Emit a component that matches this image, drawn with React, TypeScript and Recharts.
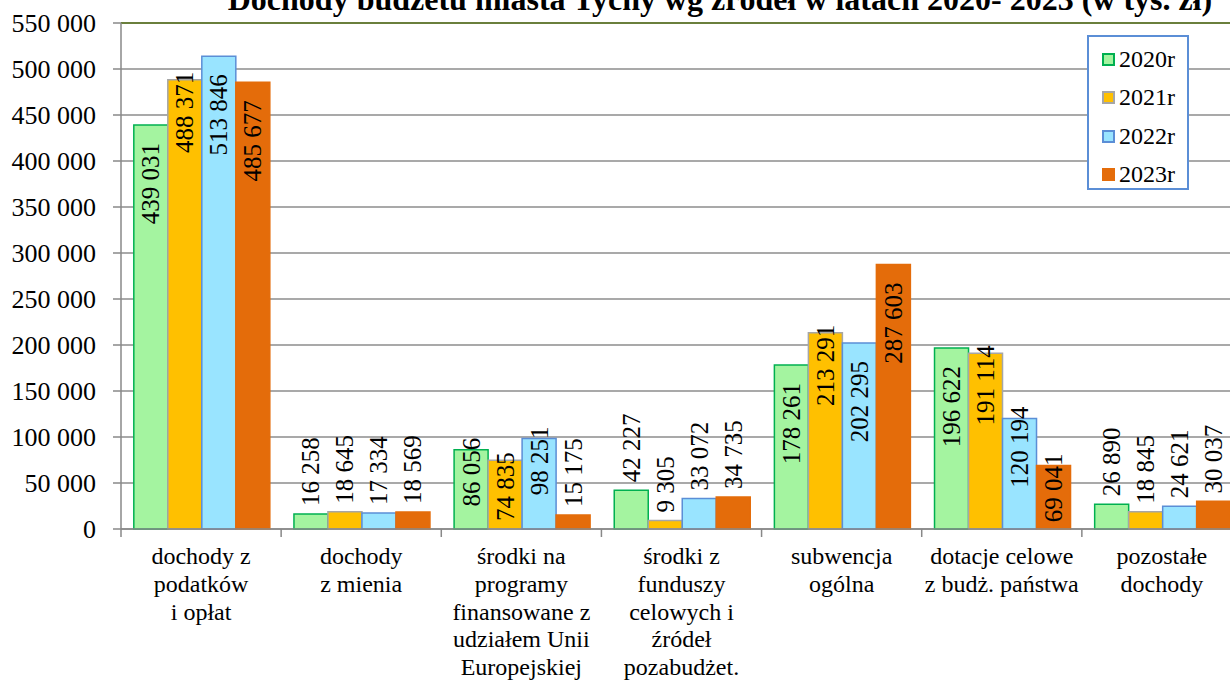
import * as React from "react";
import {
  BarChart,
  Bar,
  XAxis,
  YAxis,
  CartesianGrid,
  ReferenceLine,
} from "recharts";

const TITLE = "Dochody budżetu miasta Tychy wg źródeł w latach 2020- 2023 (w tys. zł)";

const CATEGORIES: string[][] = [
  ["dochody z", "podatków", "i opłat"],
  ["dochody", "z mienia"],
  ["środki na", "programy", "finansowane z", "udziałem Unii", "Europejskiej"],
  ["środki z", "funduszy", "celowych i", "źródeł", "pozabudżet."],
  ["subwencja", "ogólna"],
  ["dotacje celowe", "z budż. państwa"],
  ["pozostałe", "dochody"],
];

const Y2020 = [439031, 16258, 86056, 42227, 178261, 196622, 26890];
const Y2021 = [488371, 18645, 74835, 9305, 213291, 191114, 18845];
const Y2022 = [513846, 17334, 98251, 33072, 202295, 120194, 24621];
const Y2023 = [485677, 18569, 15175, 34735, 287603, 69041, 30037];

const Y_TICKS = [0, 50000, 100000, 150000, 200000, 250000, 300000, 350000, 400000, 450000, 500000, 550000];

const SERIES = [
  { key: "y2020", name: "2020r", fill: "#A4F4A0", stroke: "#00B050" },
  { key: "y2021", name: "2021r", fill: "#FFC000", stroke: "#A6A6A6" },
  { key: "y2022", name: "2022r", fill: "#99E4FF", stroke: "#5B8ED6" },
  { key: "y2023", name: "2023r", fill: "#E46C0A", stroke: "#E46C0A" },
];

const FONT = "'Liberation Serif', 'Times New Roman', serif";

const CHART_W = 1242;
const CHART_H = 680;
const PLOT_LEFT = 121;
const PLOT_TOP = 23;
const X_AXIS_H = 151;
const PLOT_BOTTOM = CHART_H - X_AXIS_H;
const BAND = (CHART_W - PLOT_LEFT) / CATEGORIES.length;

const data = CATEGORIES.map((c, i) => ({
  name: c.join(" "),
  lines: c,
  y2020: Y2020[i],
  y2021: Y2021[i],
  y2022: Y2022[i],
  y2023: Y2023[i],
}));

const fmt = (v: number) => String(v).replace(/\B(?=(\d{3})+(?!\d))/g, " ");

// Excel-like label placement: inside near the top for tall bars, above for short ones
function makeLabel(seriesKey: string) {
  return (props: any) => {
    const { x, y, width, height, value } = props;
    const cx = x + width / 2;
    const h = Math.abs(height);
    let ty: number;
    let anchor: "start" | "end";
    if (h < 60) {
      ty = y - 8;
      anchor = "start";
    } else if (seriesKey === "y2021") {
      ty = y - 8;
      anchor = "end";
    } else if (h < 140) {
      ty = y - 12;
      anchor = "end";
    } else {
      ty = y + 18;
      anchor = "end";
    }
    return (
      <text
        x={cx}
        y={ty}
        transform={`rotate(-90 ${cx} ${ty})`}
        textAnchor={anchor}
        dominantBaseline="central"
        style={{ fontFamily: FONT, fontSize: 25 }}
        fill="#000"
      >
        {fmt(value)}
      </text>
    );
  };
}

function CategoryTick(props: any) {
  const { x, payload, index } = props;
  const lines: string[] = data[index]?.lines ?? [payload.value];
  const left = x - BAND / 2;
  return (
    <g>
      <line x1={left} y1={PLOT_BOTTOM} x2={left} y2={PLOT_BOTTOM + 8} stroke="#888" strokeWidth={1.5} />
      {index === data.length - 1 && (
        <line x1={left + BAND} y1={PLOT_BOTTOM} x2={left + BAND} y2={PLOT_BOTTOM + 8} stroke="#888" strokeWidth={1.5} />
      )}
      <text x={x} y={PLOT_BOTTOM + 35} textAnchor="middle" style={{ fontFamily: FONT, fontSize: 24 }} fill="#000">
        {lines.map((l, i) => (
          <tspan key={i} x={x} dy={i === 0 ? 0 : 27.8}>
            {l}
          </tspan>
        ))}
      </text>
    </g>
  );
}

function YTick(props: any) {
  const { x, y, payload } = props;
  return (
    <text x={x - 3} y={y} textAnchor="end" dominantBaseline="central" style={{ fontFamily: FONT, fontSize: 26 }} fill="#000">
      {fmt(payload.value)}
    </text>
  );
}

function LegendBox() {
  return (
    <div
      style={{
        position: "absolute",
        left: 1087,
        top: 35,
        border: "2px solid #5B8ED6",
        background: "#fff",
        width: 102,
        height: 155,
        boxSizing: "border-box",
        padding: "3px 0 0 13px",
        fontFamily: FONT,
        fontSize: 24,
        color: "#000",
        zIndex: 3,
      }}
    >
      {SERIES.map((s) => (
        <div key={s.key} style={{ display: "flex", alignItems: "center", height: 38.5 }}>
          <span
            style={{
              display: "inline-block",
              width: 13,
              height: 13,
              boxSizing: "border-box",
              background: s.fill,
              border: `2px solid ${s.stroke}`,
              marginRight: 4,
            }}
          />
          <span>{s.name}</span>
        </div>
      ))}
    </div>
  );
}

export default function App() {
  return (
    <div
      style={{
        position: "absolute",
        left: 0,
        top: 0,
        width: 1230,
        height: 680,
        overflow: "hidden",
        background: "#fff",
      }}
    >
      <div
        style={{
          position: "absolute",
          left: 0,
          width: 1440,
          top: -16,
          textAlign: "center",
          fontFamily: FONT,
          fontWeight: "bold",
          fontSize: 32,
          lineHeight: "30px",
          whiteSpace: "nowrap",
          zIndex: 2,
        }}
      >
        {TITLE}
      </div>
      <BarChart
        width={CHART_W}
        height={CHART_H}
        data={data}
        margin={{ top: PLOT_TOP, right: 0, bottom: 0, left: 0 }}
        barCategoryGap="8%"
        barGap={0}
      >
        <CartesianGrid vertical={false} stroke="#8C8C8C" strokeWidth={1.5} />
        <XAxis
          dataKey="name"
          height={X_AXIS_H}
          interval={0}
          tickLine={false}
          axisLine={{ stroke: "#888", strokeWidth: 1.5 }}
          tick={<CategoryTick />}
        />
        <YAxis
          width={PLOT_LEFT}
          domain={[0, 550000]}
          ticks={Y_TICKS}
          interval={0}
          tickSize={8}
          tickMargin={14}
          tick={<YTick />}
          tickLine={{ stroke: "#888", strokeWidth: 1.5 }}
          axisLine={{ stroke: "#888", strokeWidth: 1.5 }}
        />
        <ReferenceLine y={550000} stroke="#6A7F3C" strokeWidth={2} />
        {SERIES.map((s) => (
          <Bar
            key={s.key}
            dataKey={s.key}
            name={s.name}
            fill={s.fill}
            stroke={s.stroke}
            strokeWidth={1.5}
            isAnimationActive={false}
            label={makeLabel(s.key)}
          />
        ))}
      </BarChart>
      <LegendBox />
    </div>
  );
}
